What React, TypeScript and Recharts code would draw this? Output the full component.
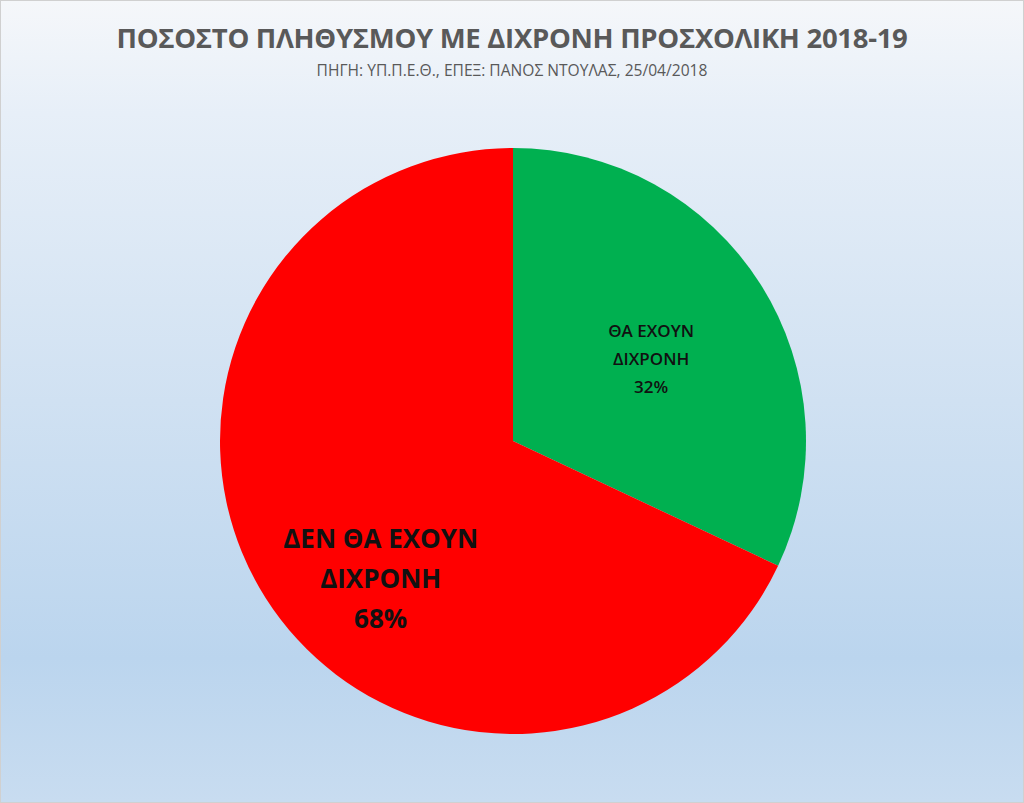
import { PieChart, Pie, Cell } from 'recharts'

const categories = ['ΘΑ ΕΧΟΥΝ ΔΙΧΡΟΝΗ', 'ΔΕΝ ΘΑ ΕΧΟΥΝ ΔΙΧΡΟΝΗ']
const labelLines = [
  ['ΘΑ ΕΧΟΥΝ', 'ΔΙΧΡΟΝΗ'],
  ['ΔΕΝ ΘΑ ΕΧΟΥΝ', 'ΔΙΧΡΟΝΗ'],
]
const shares = [32, 68]

const COLORS = ['#00b050', '#ff0000']
// label placement per slice: angle (deg), radius fraction, font size, line height
const LABEL_LAYOUT = [
  { angle: 31, dist: 0.55, size: 17, weight: 600, lh: 28 },
  { angle: 226, dist: 0.65, size: 26, weight: 700, lh: 40 },
]

const data = categories.map((name, i) => ({ name, value: shares[i] }))

const RAD = Math.PI / 180

function renderLabel(props: any) {
  const { cx, cy, outerRadius, index, percent } = props
  const l = LABEL_LAYOUT[index]
  const x = cx + outerRadius * l.dist * Math.cos(-l.angle * RAD)
  const y = cy + outerRadius * l.dist * Math.sin(-l.angle * RAD)
  const lines = [...labelLines[index], `${Math.round(percent * 100)}%`]
  const top = y - ((lines.length - 1) * l.lh) / 2
  return (
    <text
      x={x}
      y={top}
      textAnchor="middle"
      dominantBaseline="central"
      fill="#111"
      fontSize={l.size}
      fontWeight={l.weight}
      fontFamily="'Open Sans', 'Noto Sans', sans-serif"
    >
      {lines.map((t, i) => (
        <tspan key={i} x={x} y={top + i * l.lh}>
          {t}
        </tspan>
      ))}
    </text>
  )
}

export default function App() {
  return (
    <div
      style={{
        position: 'absolute',
        left: 0,
        top: 0,
        width: 1024,
        height: 803,
        boxSizing: 'border-box',
        border: '1px solid #d0d0d0',
        background:
          'linear-gradient(to bottom, #f5f7fa 0%, #e7eff8 14%, #d0e1f2 50%, #bbd5ee 82%, #c8dcf0 100%)',
        fontFamily: "'Open Sans', 'Noto Sans', sans-serif",
      }}
    >
      <div
        style={{
          position: 'absolute',
          top: 18,
          width: '100%',
          textAlign: 'center',
          fontSize: 27.5,
          fontWeight: 700,
          color: '#595959',
          letterSpacing: -0.3,
        }}
      >
        ΠΟΣΟΣΤΟ ΠΛΗΘΥΣΜΟΥ ΜΕ ΔΙΧΡΟΝΗ ΠΡΟΣΧΟΛΙΚΗ 2018-19
      </div>
      <div
        style={{
          position: 'absolute',
          top: 58,
          width: '100%',
          textAlign: 'center',
          fontSize: 15.6,
          color: '#595959',
        }}
      >
        ΠΗΓΗ: ΥΠ.Π.Ε.Θ., ΕΠΕΞ: ΠΑΝΟΣ ΝΤΟΥΛΑΣ, 25/04/2018
      </div>
      <PieChart
        width={1024}
        height={803}
        margin={{ top: 0, right: 0, bottom: 0, left: 0 }}
        style={{ position: 'absolute', left: 0, top: 0 }}
      >
        <Pie
          data={data}
          dataKey="value"
          nameKey="name"
          cx={512}
          cy={440}
          outerRadius={293}
          startAngle={90}
          endAngle={-270}
          stroke="none"
          label={renderLabel}
          labelLine={false}
          isAnimationActive={false}
        >
          {data.map((_, i) => (
            <Cell key={i} fill={COLORS[i]} />
          ))}
        </Pie>
      </PieChart>
    </div>
  )
}
